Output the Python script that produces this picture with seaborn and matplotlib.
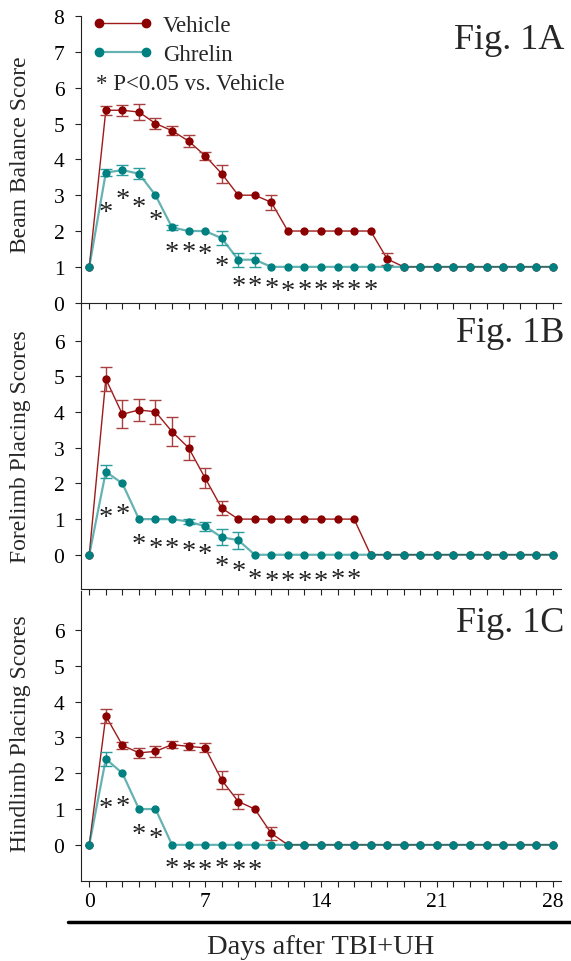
import numpy as np
import pandas as pd
import matplotlib
matplotlib.use('Agg')
import matplotlib.pyplot as plt
import matplotlib.transforms as mtrans
import seaborn as sns
from matplotlib.lines import Line2D

# Days after injury (0..28)
days = list(range(29))

# Fig. 1A - beam balance score
beam_vehicle = [1.0, 5.37, 5.37, 5.32, 5.0, 4.8, 4.51, 4.1, 3.6, 3.0, 3.0, 2.8, 2.0, 2.0, 2.0,
                2.0, 2.0, 2.0, 1.22, 1.0, 1.0, 1.0, 1.0, 1.0, 1.0, 1.0, 1.0, 1.0, 1.0]
beam_vehicle_sem = [0, 0.13, 0.15, 0.22, 0.15, 0.13, 0.17, 0.11, 0.25, 0, 0, 0.2, 0, 0, 0,
                    0, 0, 0, 0.17, 0, 0, 0, 0, 0, 0, 0, 0, 0, 0]
beam_ghrelin = [1.0, 3.63, 3.7, 3.6, 3.0, 2.1, 2.0, 2.0, 1.8, 1.2, 1.2, 1.0, 1.0, 1.0, 1.0,
                1.0, 1.0, 1.0, 1.0, 1.0, 1.0, 1.0, 1.0, 1.0, 1.0, 1.0, 1.0, 1.0, 1.0]
beam_ghrelin_sem = [0, 0.09, 0.14, 0.15, 0, 0.08, 0, 0, 0.2, 0.2, 0.2, 0, 0, 0, 0,
                    0, 0, 0, 0, 0, 0, 0, 0, 0, 0, 0, 0, 0, 0]
beam_star_days = [1, 2, 3, 4, 5, 6, 7, 8, 9, 10, 11, 12, 13, 14, 15, 16, 17]
beam_star_y = [2.72, 3.09, 2.86, 2.49, 1.6, 1.6, 1.55, 1.22, 0.66, 0.66, 0.59, 0.53,
               0.55, 0.55, 0.55, 0.55, 0.55]

# Fig. 1B - forelimb placing scores
fore_vehicle = [0, 4.93, 3.94, 4.06, 4.01, 3.45, 3.0, 2.15, 1.31, 1.0, 1.0, 1.0, 1.0, 1.0, 1.0,
                1.0, 1.0, 0, 0, 0, 0, 0, 0, 0, 0, 0, 0, 0, 0]
fore_vehicle_sem = [0, 0.34, 0.39, 0.30, 0.33, 0.40, 0.33, 0.29, 0.19, 0, 0, 0, 0, 0, 0,
                    0, 0, 0, 0, 0, 0, 0, 0, 0, 0, 0, 0, 0, 0]
fore_ghrelin = [0, 2.33, 2.0, 1.0, 1.0, 1.0, 0.93, 0.80, 0.49, 0.41, 0, 0, 0, 0, 0,
                0, 0, 0, 0, 0, 0, 0, 0, 0, 0, 0, 0, 0, 0]
fore_ghrelin_sem = [0, 0.19, 0, 0, 0, 0, 0.07, 0.13, 0.23, 0.24, 0, 0, 0, 0, 0,
                    0, 0, 0, 0, 0, 0, 0, 0, 0, 0, 0, 0, 0, 0]
fore_star_days = [1, 2, 3, 4, 5, 6, 7, 8, 9, 10, 11, 12, 13, 14, 15, 16]
fore_star_y = [1.26, 1.33, 0.49, 0.39, 0.39, 0.3, 0.21, -0.12, -0.26, -0.5, -0.54, -0.54,
               -0.54, -0.54, -0.5, -0.5]

# Fig. 1C - hindlimb placing scores
hind_vehicle = [0, 3.6, 2.78, 2.57, 2.61, 2.8, 2.75, 2.71, 1.81, 1.21, 1.0, 0.32, 0, 0, 0,
                0, 0, 0, 0, 0, 0, 0, 0, 0, 0, 0, 0, 0, 0]
hind_vehicle_sem = [0, 0.19, 0.09, 0.14, 0.15, 0.1, 0.1, 0.13, 0.25, 0.2, 0, 0.19, 0, 0, 0,
                    0, 0, 0, 0, 0, 0, 0, 0, 0, 0, 0, 0, 0, 0]
hind_ghrelin = [0, 2.4, 2.0, 1.0, 1.0, 0, 0, 0, 0, 0, 0, 0, 0, 0, 0,
                0, 0, 0, 0, 0, 0, 0, 0, 0, 0, 0, 0, 0, 0]
hind_ghrelin_sem = [0, 0.19, 0, 0, 0, 0, 0, 0, 0, 0, 0, 0, 0, 0, 0,
                    0, 0, 0, 0, 0, 0, 0, 0, 0, 0, 0, 0, 0, 0]
hind_star_days = [1, 2, 3, 4, 5, 6, 7, 8, 9, 10]
hind_star_y = [1.23, 1.28, 0.49, 0.39, -0.45, -0.51, -0.5, -0.45, -0.5, -0.5]

# colours
veh_dot = '#8b0000'
veh_line = '#9e1a1a'
veh_err = '#a84040'
ghr_dot = '#008080'
ghr_line = (0.0, 0.5, 0.5, 0.6)
ghr_err = '#2a9d9d'

sns.set_style('ticks')
plt.rcParams['font.family'] = ['Liberation Serif', 'DejaVu Serif']
plt.rcParams['axes.linewidth'] = 0.8
plt.rcParams['axes.edgecolor'] = '#222222'

fig = plt.figure(figsize=(5.71, 9.62), dpi=100)
left, width = 81 / 571, 480 / 571
ax_a = fig.add_axes([left, 1 - 303.7 / 962, width, 286.7 / 962])
ax_b = fig.add_axes([left, 1 - 590 / 962, width, 286 / 962])
ax_c = fig.add_axes([left, 1 - 882 / 962, width, 290 / 962])

panels = [
    (ax_a, beam_vehicle, beam_vehicle_sem, beam_ghrelin, beam_ghrelin_sem,
     beam_star_days, beam_star_y, (0, 8), range(0, 9), 'Beam Balance Score', 'Fig. 1A', 0.888, 0.52),
    (ax_b, fore_vehicle, fore_vehicle_sem, fore_ghrelin, fore_ghrelin_sem,
     fore_star_days, fore_star_y, (-0.96, 7.06), range(0, 7), 'Forelimb Placing Scores', 'Fig. 1B', 0.868, 0.5),
    (ax_c, hind_vehicle, hind_vehicle_sem, hind_ghrelin, hind_ghrelin_sem,
     hind_star_days, hind_star_y, (-1.01, 7.09), range(0, 7), 'Hindlimb Placing Scores', 'Fig. 1C', 0.863, 0.51),
]

for ax, veh, veh_sem, ghr, ghr_sem, s_days, s_y, ylim, yticks, ylab, tag, tag_y, lab_y in panels:
    ax.set_facecolor('none')
    df = pd.DataFrame({'day': days, 'veh': veh, 'veh_sem': veh_sem,
                       'ghr': ghr, 'ghr_sem': ghr_sem})

    # vehicle: line, error bars, dots
    sns.lineplot(data=df, x='day', y='veh', color=veh_line, linewidth=1.0,
                 errorbar=None, ax=ax, zorder=2)
    m = df['veh_sem'] > 0
    ax.errorbar(df.loc[m, 'day'], df.loc[m, 'veh'], yerr=df.loc[m, 'veh_sem'], fmt='none',
                ecolor=veh_err, elinewidth=1.0, capsize=4, capthick=1.0, zorder=3)
    sns.scatterplot(data=df, x='day', y='veh', color=veh_dot, s=36, linewidth=0,
                    ax=ax, zorder=4)

    # ghrelin: line, error bars, dots
    sns.lineplot(data=df, x='day', y='ghr', color=ghr_line, linewidth=1.6,
                 errorbar=None, ax=ax, zorder=5)
    m = df['ghr_sem'] > 0
    ax.errorbar(df.loc[m, 'day'], df.loc[m, 'ghr'], yerr=df.loc[m, 'ghr_sem'], fmt='none',
                ecolor=ghr_err, elinewidth=1.0, capsize=4, capthick=1.0, zorder=6)
    sns.scatterplot(data=df, x='day', y='ghr', color=ghr_dot, s=36, linewidth=0,
                    ax=ax, zorder=7)

    # significance stars (y is the glyph centre)
    star_tr = mtrans.offset_copy(ax.transData, fig=fig, y=-10, units='points')
    for d, yy in zip(s_days, s_y):
        ax.text(d, yy, '*', ha='center', va='baseline', fontsize=20.5,
                transform=star_tr, color='#222222')

    ax.set_xlim(-0.5, 28.5)
    ax.set_ylim(*ylim)
    ax.set_yticks(list(yticks))
    ax.set_xticks(days)
    ax.set_xticklabels([str(d) if d % 7 == 0 else '' for d in days])
    ax.tick_params(axis='both', direction='out', length=4, width=0.8, colors='#222222',
                   labelsize=15.5, labelcolor='black')
    ax.tick_params(axis='y', pad=8)
    ax.tick_params(axis='x', pad=4)
    for side in ['top', 'right']:
        ax.spines[side].set_visible(False)
    ax.set_xlabel('')
    ax.set_ylabel(ylab, fontsize=17)
    ax.yaxis.set_label_coords(-0.104, lab_y)
    ax.text(1.008, tag_y, tag, transform=ax.transAxes, ha='right', va='baseline', fontsize=26)

ax_a.tick_params(axis='x', labelbottom=False)
ax_b.tick_params(axis='x', labelbottom=False)

# legend in panel A
handles = [
    Line2D([], [], color=veh_line, linewidth=1.0, marker='o', markersize=6,
           markerfacecolor=veh_dot, markeredgecolor=veh_dot),
    Line2D([], [], color=ghr_line, linewidth=1.6, marker='o', markersize=6,
           markerfacecolor=ghr_dot, markeredgecolor=ghr_dot),
]
ax_a.legend(handles, ['Vehicle', 'Ghrelin'], loc='upper left', bbox_to_anchor=(0.023, 1.005),
            frameon=False, borderpad=0, borderaxespad=0, handlelength=2.67,
            handletextpad=0.43, labelspacing=0.37, numpoints=2, fontsize=16.5)
ax_a.text(0.031, 0.745, '* P<0.05 vs. Vehicle', transform=ax_a.transAxes, ha='left',
          va='baseline', fontsize=16.5)

# common x label with rule above it
fig.add_artist(Line2D([68 / 571, 1.0], [1 - 923 / 962, 1 - 923 / 962],
                      transform=fig.transFigure, color='black', linewidth=2.5))
fig.text(321 / 571, 1 - 948 / 962, 'Days after TBI+UH', ha='center', va='center', fontsize=20.5)

fig.savefig('out.png', dpi=100)
